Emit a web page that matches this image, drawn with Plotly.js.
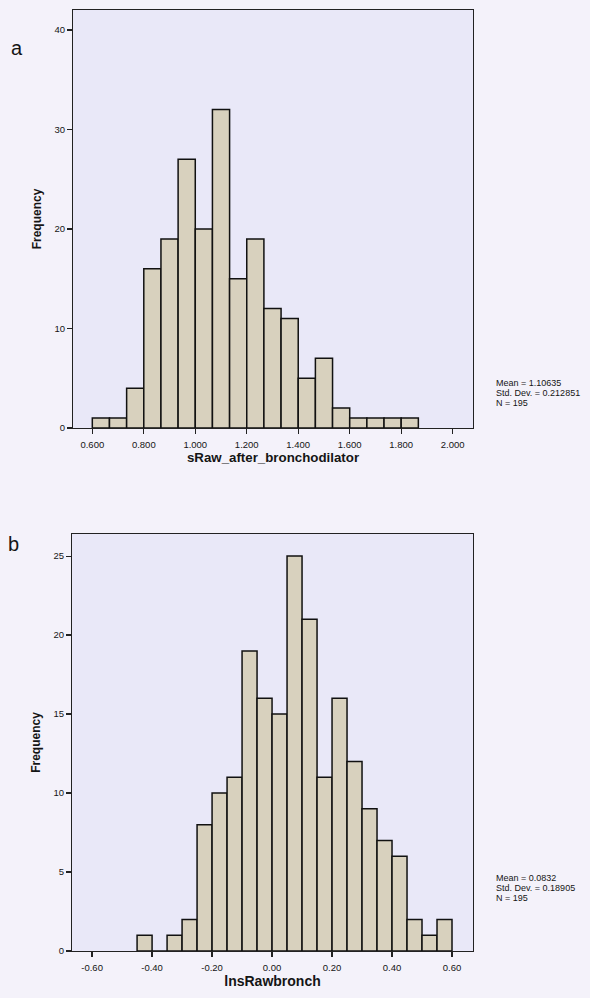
<!DOCTYPE html>
<html><head><meta charset="utf-8">
<script src="https://cdn.plot.ly/plotly-3.0.1.min.js"></script>
<style>html,body{margin:0;padding:0;background:#f4f2fa;}#chart{width:590px;height:998px;}</style>
</head><body><div id="chart"></div>
<script>
// Panel a: sRaw_after_bronchodilator
const binStartA = 0.6;
const binSizeA = 0.2 / 3;
const countsA = [1, 1, 4, 16, 19, 27, 20, 32, 15, 19, 12, 11, 5, 7, 2, 1, 1, 1, 1];
const tickValsA = [0.6, 0.8, 1.0, 1.2, 1.4, 1.6, 1.8, 2.0];
const yTicksA = [0, 10, 20, 30, 40];
const statsA = ["Mean = 1.10635", "Std. Dev. = 0.212851", "N = 195"];

// Panel b: lnsRawbronch
const binStartB = -0.45;
const binSizeB = 0.05;
const countsB = [1, 0, 1, 2, 8, 10, 11, 19, 16, 15, 25, 21, 11, 16, 12, 9, 7, 6, 2, 1, 2];
const tickValsB = [-0.6, -0.4, -0.2, 0.0, 0.2, 0.4, 0.6];
const yTicksB = [0, 5, 10, 15, 20, 25];
const statsB = ["Mean = 0.0832", "Std. Dev. = 0.18905", "N = 195"];

const W = 590, H = 998;
const font = {family: "Liberation Sans, Arial, sans-serif", color: "#151515"};
const barColor = "#d8d1be";

function lefts(start, size, n){ const a=[]; for(let i=0;i<n;i++) a.push(start + i*size); return a; }

const traces = [
  {type:"bar", x: lefts(binStartA, binSizeA, countsA.length), y: countsA, width: binSizeA, offset: 0,
   marker:{color: barColor, line:{color:"#111", width:1.5}}, xaxis:"x", yaxis:"y", hoverinfo:"x+y"},
  {type:"bar", x: lefts(binStartB, binSizeB, countsB.length), y: countsB, width: binSizeB, offset: 0,
   marker:{color: barColor, line:{color:"#111", width:1.5}}, xaxis:"x2", yaxis:"y2", hoverinfo:"x+y"}
];

function px(x){ return x / W; }
function py(y){ return 1 - y / H; }

const axisCommon = {showgrid:false, zeroline:false, showline:true, linecolor:"#222", linewidth:1, mirror:true,
  ticks:"outside", ticklen:5, tickwidth:1.2, tickcolor:"#222", tickfont:{...font, size:9.5}};

const statAnn = [];
function addStats(lines, x, y0, dy){
  lines.forEach((t,i)=>statAnn.push({text:t, xref:"paper", yref:"paper", x:px(x), y:py(y0 + i*dy),
    xanchor:"left", yanchor:"middle", showarrow:false, font:{...font, size:9}}));
}
addStats(statsA, 494, 383, 10);
addStats(statsB, 494, 878, 10);

const layout = {
  width: W, height: H,
  margin:{l:0, r:0, t:0, b:0},
  paper_bgcolor:"#f4f2fa", plot_bgcolor:"#e9e8f8",
  showlegend:false, bargap:0,
  xaxis:{...axisCommon, domain:[px(73), px(473)], range:[0.525, 2.079], tickvals: tickValsA,
    ticktext: tickValsA.map(v=>v.toFixed(3)), anchor:"y", ticklabelstandoff:3,
    title:{text:"sRaw_after_bronchodilator", font:{...font, size:13.3, weight:"bold"}, standoff:3}},
  yaxis:{...axisCommon, domain:[py(428), py(10)], range:[0, 42], tickvals: yTicksA, anchor:"x",
    title:{text:"Frequency", font:{...font, size:12, weight:"bold"}, standoff:10}},
  xaxis2:{...axisCommon, domain:[px(72), px(473)], range:[-0.667, 0.67], tickvals: tickValsB,
    ticktext: tickValsB.map(v=>v.toFixed(2)), anchor:"y2", ticklabelstandoff:3,
    title:{text:"lnsRawbronch", font:{...font, size:14, weight:"bold"}, standoff:3}},
  yaxis2:{...axisCommon, domain:[py(951), py(534)], range:[0, 26.4], tickvals: yTicksB, anchor:"x2",
    title:{text:"Frequency", font:{...font, size:12, weight:"bold"}, standoff:10}},
  annotations:[
    {text:"a", xref:"paper", yref:"paper", x:px(9), y:py(35), xanchor:"left", yanchor:"top", showarrow:false, font:{...font, size:20}},
    {text:"b", xref:"paper", yref:"paper", x:px(6), y:py(531), xanchor:"left", yanchor:"top", showarrow:false, font:{...font, size:20}},
    ...statAnn
  ]
};

Plotly.newPlot("chart", traces, layout, {displayModeBar:false, staticPlot:true});
</script></body></html>
